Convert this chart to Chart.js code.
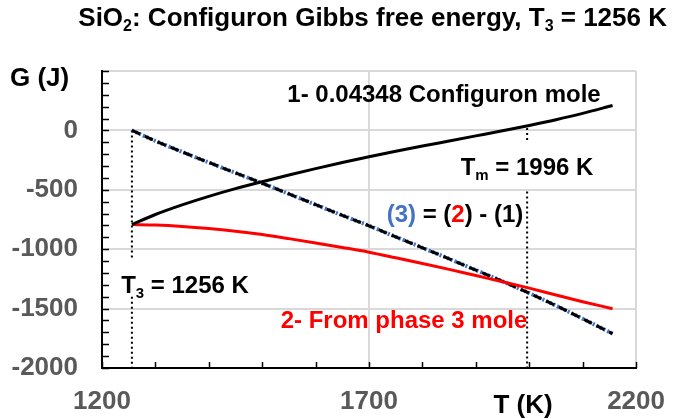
<!DOCTYPE html>
<html>
<head>
<meta charset="utf-8">
<script src="https://cdn.jsdelivr.net/npm/chart.js@4.4.1/dist/chart.umd.min.js"></script>
<style>
  html, body { margin: 0; padding: 0; background: #fff; }
  canvas { display: block; }
</style>
</head>
<body>
<canvas id="gibbsChart" width="683" height="419"></canvas>
<script>
// temperatures (K) and Gibbs energies (J)
const tempK = [1256, 1300, 1350, 1400, 1450, 1500, 1550, 1600, 1650, 1700, 1750, 1800, 1850, 1900, 1950, 2000, 2050, 2100, 2156];
const gConfiguron = [-793, -708, -627, -555, -490, -432, -376, -322, -270, -222, -176, -132, -89, -46, -3, 42, 90, 143, 210];
const gPhase3 = [-793, -797, -808, -825, -848, -877, -911, -947, -985, -1025, -1072, -1120, -1170, -1222, -1274, -1328, -1385, -1442, -1501];
const gDiff = [0, -89, -181, -270, -358, -445, -535, -625, -715, -803, -896, -988, -1081, -1176, -1271, -1370, -1475, -1585, -1711];

// vertical marker lines (null = gap behind the label)
const t3 = 1256;
const t3Line = [0, -1090, null, -1400, -2000];
const tm = 1996;
const tmLine = [20, -100, null, -515, -2000];

const xTickLabels = [1200, 1700, 2200];
const yTickLabels = [0, -500, -1000, -1500, -2000];

const FONT = '"Liberation Sans", Arial, sans-serif';

function pts(xs, ys) {
    return xs.map((x, i) => ({ x: x, y: ys[i] }));
}
function vline(x, ys) {
    return ys.map(y => ({ x: x, y: y }));
}

// text with subscripts: parts = [text, color, isSub]
function drawRich(ctx, parts, x, y, size, align) {
    const subSize = Math.round(size * 0.62);
    let total = 0;
    parts.forEach(p => {
        ctx.font = 'bold ' + (p[2] ? subSize : size) + 'px ' + FONT;
        total += ctx.measureText(p[0]).width;
    });
    let cx = x;
    if (align === 'center') cx = x - total / 2;
    if (align === 'right') cx = x - total;
    ctx.textBaseline = 'alphabetic';
    ctx.textAlign = 'left';
    parts.forEach(p => {
        ctx.font = 'bold ' + (p[2] ? subSize : size) + 'px ' + FONT;
        ctx.fillStyle = p[1];
        ctx.fillText(p[0], cx, p[2] ? y + size * 0.2 : y);
        cx += ctx.measureText(p[0]).width;
    });
}

const labels = [
    { parts: [['SiO', '#000'], ['2', '#000', true], [': Configuron Gibbs free energy, T', '#000'], ['3', '#000', true], [' = 1256 K', '#000']], x: 667, y: 26, size: 26, align: 'right' },
    { parts: [['G (J)', '#000']], x: 10, y: 86, size: 26, align: 'left' },
    { parts: [['T (K)', '#000']], x: 523, y: 413, size: 26, align: 'center' },
    { parts: [['1- 0.04348 Configuron mole', '#000']], x: 444, y: 102, size: 24, align: 'center' },
    { parts: [['T', '#000'], ['m', '#000', true], [' = 1996 K', '#000']], x: 527, y: 175, size: 24, align: 'center' },
    { parts: [['(3)', '#4472C4'], [' = (', '#000'], ['2', '#FF0000'], [') - (1)', '#000']], x: 455, y: 222, size: 24, align: 'center' },
    { parts: [['T', '#000'], ['3', '#000', true], [' = 1256 K', '#000']], x: 185, y: 293, size: 24, align: 'center' },
    { parts: [['2- From phase 3 mole', '#FF0000']], x: 404, y: 328, size: 24, align: 'center' }
];

// Excel-style minor ticks pointing into the plot, every 100 units
const innerTicks = {
    id: 'innerTicks',
    beforeDatasetsDraw(chart) {
        const ctx = chart.ctx;
        const xs = chart.scales.x, ys = chart.scales.y;
        const area = chart.chartArea;
        ctx.save();
        ctx.strokeStyle = '#000';
        ctx.lineWidth = 1.5;
        ctx.beginPath();
        for (let v = xs.min; v <= xs.max; v += 100) {
            const px = Math.round(xs.getPixelForValue(v)) + 0.5;
            ctx.moveTo(px, area.bottom);
            ctx.lineTo(px, area.bottom - 6);
        }
        for (let v = ys.min; v <= ys.max; v += 100) {
            const py = Math.round(ys.getPixelForValue(v)) + 0.5;
            ctx.moveTo(area.left, py);
            ctx.lineTo(area.left + 7, py);
        }
        ctx.stroke();
        ctx.restore();
    }
};

const textLabels = {
    id: 'textLabels',
    afterDraw(chart) {
        const ctx = chart.ctx;
        ctx.save();
        labels.forEach(l => drawRich(ctx, l.parts, l.x, l.y, l.size, l.align));
        ctx.restore();
    }
};

const ctx = document.getElementById('gibbsChart').getContext('2d');
new Chart(ctx, {
    type: 'scatter',
    data: {
        datasets: [
            {
                label: '1- 0.04348 Configuron mole',
                data: pts(tempK, gConfiguron),
                showLine: true,
                borderColor: '#000000',
                borderWidth: 3,
                pointRadius: 0,
                cubicInterpolationMode: 'monotone'
            },
            {
                label: '2- From phase 3 mole',
                data: pts(tempK, gPhase3),
                showLine: true,
                borderColor: '#FF0000',
                borderWidth: 3,
                pointRadius: 0,
                cubicInterpolationMode: 'monotone'
            },
            {
                label: '(3) = (2) - (1)',
                data: pts(tempK, gDiff),
                showLine: true,
                borderColor: '#000000',
                borderWidth: 3,
                borderDash: [9, 5],
                pointRadius: 0,
                cubicInterpolationMode: 'monotone'
            },
            {
                label: '(3)',
                data: pts(tempK, gDiff),
                showLine: true,
                borderColor: '#4472C4',
                borderWidth: 4,
                borderDash: [2, 2],
                pointRadius: 0,
                cubicInterpolationMode: 'monotone'
            },
            {
                label: 'T3',
                data: vline(t3, t3Line),
                showLine: true,
                spanGaps: false,
                borderColor: '#000000',
                borderWidth: 2,
                borderDash: [2, 3],
                pointRadius: 0
            },
            {
                label: 'Tm',
                data: vline(tm, tmLine),
                showLine: true,
                spanGaps: false,
                borderColor: '#000000',
                borderWidth: 2,
                borderDash: [2, 3],
                pointRadius: 0
            }
        ]
    },
    options: {
        responsive: false,
        animation: false,
        devicePixelRatio: 1,
        layout: { padding: { top: 71, right: 32, left: 0, bottom: 0 } },
        plugins: {
            legend: { display: false },
            tooltip: { enabled: false },
            title: { display: false }
        },
        scales: {
            x: {
                type: 'linear',
                min: 1200,
                max: 2200,
                afterFit(scale) { scale.height = 51; },
                ticks: {
                    stepSize: 500,
                    autoSkip: false,
                    maxRotation: 0,
                    padding: 18,
                    color: '#595959',
                    font: { family: FONT, size: 26, weight: 'bold' },
                    callback: v => xTickLabels.includes(v) ? String(v) : ''
                },
                grid: {
                    drawTicks: false,
                    lineWidth: 2,
                    color: '#d9d9d9'
                },
                border: { color: '#000000', width: 2 }
            },
            y: {
                type: 'linear',
                min: -2000,
                max: 500,
                afterFit(scale) { scale.width = 102; },
                ticks: {
                    stepSize: 500,
                    autoSkip: false,
                    padding: 24,
                    color: '#595959',
                    font: { family: FONT, size: 26, weight: 'bold' },
                    callback: v => yTickLabels.includes(v) ? String(v) : ''
                },
                grid: {
                    drawTicks: false,
                    lineWidth: 2,
                    color: '#d9d9d9'
                },
                border: { color: '#000000', width: 2 }
            }
        }
    },
    plugins: [innerTicks, textLabels]
});
</script>
</body>
</html>
